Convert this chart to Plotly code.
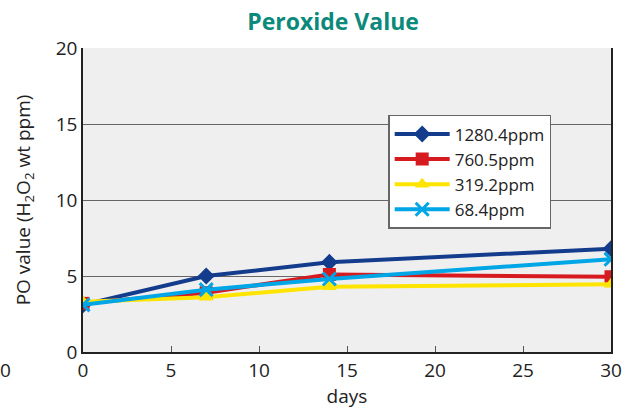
import plotly.graph_objects as go

# ===============================
# DATA
# ===============================
days = [0, 7, 14, 30]
series_names = ["1280.4ppm", "760.5ppm", "319.2ppm", "68.4ppm"]
po_1280 = [3.1, 5.0, 5.9, 6.8]
po_760 = [3.2, 3.9, 5.1, 4.95]
po_319 = [3.3, 3.6, 4.3, 4.45]
po_68 = [3.1, 4.1, 4.8, 6.1]

colors = ["#143c8c", "#d71920", "#ffe400", "#00a6e6"]
symbols = ["diamond", "square", "triangle-up", "x-thin"]

fig = go.Figure()
for name, vals, c, s in zip(series_names, [po_1280, po_760, po_319, po_68], colors, symbols):
    marker = dict(symbol=s, size=13, color=c)
    if s == "x-thin":
        marker["line"] = dict(width=3, color=c)
    fig.add_trace(go.Scatter(x=days, y=vals, name=name, mode="lines+markers",
                             line=dict(color=c, width=4), marker=marker))

fig.update_layout(
    width=632, height=414,
    margin=dict(l=83, r=21, t=48, b=62),
    paper_bgcolor="white",
    plot_bgcolor="#efefef",
    font=dict(family="Open Sans", size=17, color="#222"),
    title=dict(text="<b>Peroxide Value</b>", x=0.527, xanchor="center",
               y=0.947, yanchor="middle", font=dict(size=23, color="#0b8a7b")),
    legend=dict(x=0.578, y=0.78, xanchor="left", yanchor="top",
                bgcolor="white", bordercolor="#666", borderwidth=1.5,
                font=dict(size=17), tracegroupgap=0, itemwidth=55),
    showlegend=True,
)
fig.update_xaxes(range=[0, 30], dtick=5, showgrid=False, showline=True,
                 linecolor="#222", linewidth=1.5, ticks="inside", ticklen=6,
                 tickcolor="#555", zeroline=False, automargin=False,
                 tickfont=dict(size=19),
                 title=dict(text="days", standoff=4, font=dict(size=19)))
fig.update_yaxes(range=[0, 20], dtick=5, showgrid=True, gridcolor="#666",
                 gridwidth=1.2, showline=True, mirror=True, linecolor="#222",
                 linewidth=1.5, zeroline=False, ticks="", automargin=False,
                 tickfont=dict(size=19),
                 title=dict(text="PO value (H<sub>2</sub>O<sub>2</sub> wt ppm)",
                            standoff=20, font=dict(size=19)))
# stray "0" from the neighbouring chart at the left edge
fig.add_annotation(text="0", x=0, y=-0.11, xref="paper", yref="paper",
                   xshift=-78, xanchor="center", showarrow=False, font=dict(size=19))

# drop the default 8px body margin so the figure fills the window
fig.write_html("out.html", config={"displayModeBar": False},
               post_script="document.body.style.margin='0';")
